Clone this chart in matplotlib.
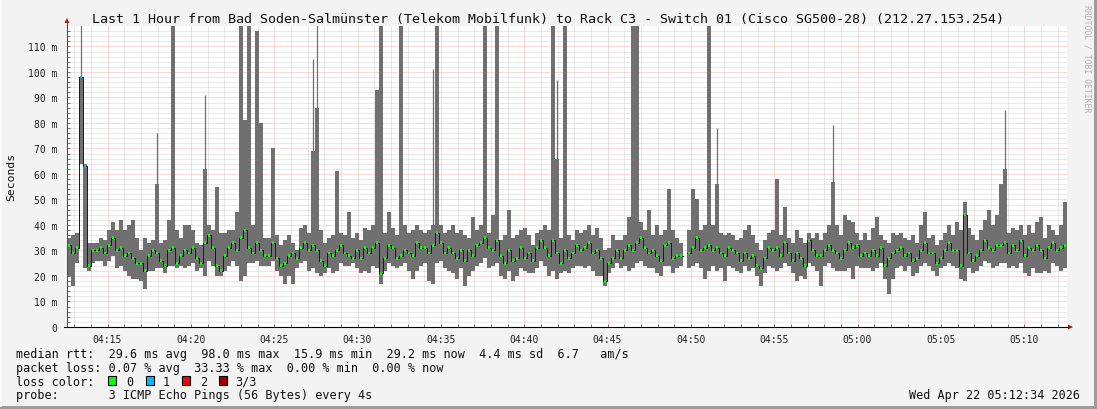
import matplotlib
matplotlib.use('Agg')
import matplotlib.pyplot as plt
import numpy as np
from matplotlib.patches import Rectangle, Polygon
from matplotlib.lines import Line2D

W, H = 1097, 410
START_MIN = 4 * 60 + 12 + 34 / 60      # 04:12:34
SPAN_MIN = 60.0
STEP_MIN = 0.24                        # one column = 14.4 s

title = "Last 1 Hour from Bad Soden-Salmünster (Telekom Mobilfunk) to Rack C3 - Switch 01 (Cisco SG500-28) (212.27.153.254)"

nan = float('nan')
median_ms = [
    32, 29, 31, 98, 63, 24, 30, 30, 31, 29,
    32, 35, 30, 31, 28, 29, 27, 25, 25, 22,
    28, 30, 29, 26, 24, 30, 31, 25, 28, 30,
    29, 31, 27, 25, 33, 36, 31, 24, 22, 28,
    31, 33, 30, 35, 38, 31, 29, 33, 30, 28,
    28, 33, 27, 24, 25, 28, 29, 27, 31, 33,
    30, 32, 30, 26, 24, 29, 28, 30, 32, 29,
    28, 27, 30, 27, 31, 29, 31, 33, 21, 27,
    32, 31, 27, 28, 30, 29, 28, 33, 31, 31,
    29, 32, 37, 33, 29, 31, 29, 27, 30, 26,
    30, 28, 32, 33, 35, 31, 30, 34, 28, 25,
    30, 26, 27, 31, 27, 29, 26, 31, 34, 31,
    28, 34, 29, 25, 30, 27, 29, 32, 30, 31,
    33, 29, 30, 27, 18, 25, 27, 30, 27, 30,
    32, 30, 33, 35, 31, 29, 30, 28, 26, 32,
    33, 27, 28, 28, nan, 29, 31, 35, 30, 31,
    32, 30, 31, 29, 28, 31, 30, 29, 26, 29,
    27, 28, 24, 23, 27, 31, 30, 31, 28, 33,
    29, 26, 29, 27, 24, 34, 30, 28, 28, 30,
    32, 30, 29, 27, 30, 33, 31, 32, 28, 29,
    28, 30, 28, 31, 24, 27, 29, 30, 31, 28,
    29, 26, 27, 30, 33, 29, 29, 25, 27, 30,
    33, 30, 30, 24, 44, 29, 26, 28, 30, 34,
    31, 30, 32, 32, 33, 29, 32, 30, 34, 28,
    31, 30, 32, 30, 27, 31, 33, 30, 31, 32,
]
low_ms = [
    20, 16, 25, 64, 23, 22, 25, 26, 26, 24,
    26, 28, 23, 24, 22, 20, 19, 19, 18, 15,
    22, 22, 23, 23, 21, 24, 24, 23, 24, 23,
    24, 25, 22, 23, 20, 26, 24, 20, 20, 22,
    24, 26, 24, 18, 20, 25, 25, 26, 24, 24,
    24, 26, 22, 20, 17, 20, 17, 23, 25, 26,
    22, 23, 21, 20, 21, 23, 21, 22, 25, 24,
    24, 25, 23, 21, 22, 21, 24, 23, 17, 22,
    25, 24, 23, 24, 25, 22, 19, 22, 24, 25,
    18, 17, 25, 26, 23, 22, 21, 19, 23, 16,
    20, 22, 24, 25, 27, 23, 24, 25, 20, 19,
    22, 18, 20, 23, 22, 21, 21, 23, 26, 24,
    20, 22, 19, 21, 22, 21, 23, 24, 24, 23,
    24, 22, 20, 20, 16, 21, 23, 25, 23, 24,
    22, 23, 25, 26, 24, 23, 23, 21, 20, 24,
    24, 21, 23, 24, nan, 23, 24, 25, 23, 19,
    22, 24, 22, 23, 18, 24, 23, 22, 21, 24,
    22, 23, 20, 16, 21, 24, 23, 22, 23, 25,
    24, 21, 18, 20, 19, 25, 24, 22, 16, 24,
    25, 23, 22, 22, 22, 23, 19, 24, 23, 23,
    23, 22, 23, 25, 19, 13, 19, 23, 24, 22,
    24, 20, 21, 24, 25, 24, 22, 20, 23, 24,
    25, 24, 23, 19, 18, 23, 21, 22, 24, 26,
    25, 23, 24, 25, 25, 23, 24, 23, 25, 21,
    20, 23, 21, 21, 22, 21, 25, 24, 22, 23,
]
high_ms = [
    35, 36, 37, 98, 64, 33, 33, 33, 35, 34,
    38, 41, 38, 42, 38, 40, 42, 35, 30, 35,
    33, 34, 56, 33, 34, 42, 150, 38, 35, 40,
    40, 38, 33, 32, 62, 40, 38, 55, 37, 37,
    38, 38, 45, 150, 81, 150, 40, 116, 80, 35,
    35, 70, 36, 32, 34, 36, 33, 30, 39, 40,
    37, 69, 86, 38, 33, 35, 36, 61, 37, 36,
    45, 35, 37, 34, 39, 38, 40, 93, 150, 37,
    45, 39, 36, 150, 40, 37, 38, 40, 38, 37,
    38, 40, 150, 40, 37, 38, 40, 37, 38, 36,
    35, 43, 38, 40, 150, 37, 44, 150, 34, 36,
    46, 35, 36, 38, 39, 36, 32, 37, 38, 40,
    38, 150, 66, 35, 150, 36, 34, 38, 37, 38,
    40, 36, 39, 35, 30, 31, 36, 34, 34, 36,
    43, 150, 150, 41, 38, 46, 36, 40, 36, 38,
    54, 38, 35, 33, nan, 38, 54, 50, 38, 40,
    150, 40, 56, 37, 36, 37, 36, 34, 35, 38,
    40, 36, 33, 30, 34, 37, 38, 58, 36, 47,
    35, 33, 38, 35, 33, 37, 35, 37, 34, 37,
    40, 57, 40, 36, 44, 42, 41, 37, 34, 37,
    34, 39, 43, 36, 34, 33, 37, 36, 37, 35,
    34, 36, 33, 40, 45, 35, 36, 32, 34, 37,
    40, 36, 41, 38, 49, 39, 36, 34, 38, 42,
    46, 40, 44, 56, 62, 37, 39, 38, 40, 36,
    40, 37, 41, 43, 35, 40, 38, 36, 40, 49,
]
loss = [0] * 250
loss[3] = 1
loss[4] = 1
# single slow pings drawn as hairlines
peak_col = [3, 22, 34, 61, 62, 91, 122, 162, 191, 234]
peak_ms = [150, 76, 91, 105, 150, 101, 97, 78, 79, 85]

loss_labels = ["0", "1", "2", "3/3"]
loss_colors = ["#00ff00", "#00b8ff", "#ff0000", "#a00000"]

legend_rtt = "median rtt:  29.6 ms avg  98.0 ms max  15.9 ms min  29.2 ms now  4.4 ms sd  6.7   am/s"
legend_loss = "packet loss: 0.07 % avg  33.33 % max  0.00 % min  0.00 % now"
legend_probe = "probe:       3 ICMP Echo Pings (56 Bytes) every 4s"
stamp = "Wed Apr 22 05:12:34 2026"

MONO = 'DejaVu Sans Mono'
plt.rcParams['font.family'] = MONO
LEG_FS = 8.5

fig = plt.figure(figsize=(W / 100, H / 100), dpi=100, facecolor='#f3f3f3')


def fx(px):
    return px / W


def fy(py):
    return 1 - py / H


ax = fig.add_axes([fx(67), fy(328), (1067 - 67) / W, (328 - 27) / H])
ax.set_facecolor('white')

med = np.array(median_ms, float)
lo = np.array(low_ms, float)
hi = np.array(high_ms, float)
n = len(med)
xc = START_MIN + STEP_MIN * (np.arange(n) + 0.5)

# smoke
ax.bar(xc, hi - lo, bottom=lo, width=STEP_MIN, color='#707070', linewidth=0, zorder=2)
for c, v in zip(peak_col, peak_ms):
    ax.vlines(xc[c], hi[c], v, color='#707070', lw=0.9, zorder=2)

# median
ax.step(xc, med, where='mid', color='#1a1a1a', lw=0.7, zorder=3)
lc = np.array([loss_colors[l] for l in loss])
ok = ~np.isnan(med)
ax.scatter(xc[ok], med[ok], s=4.5, marker='s', c=lc[ok], linewidths=0, zorder=4)

ax.set_xlim(START_MIN, START_MIN + SPAN_MIN)
ax.set_ylim(0, 118)

xmaj = np.arange(255, 313, 5)
ax.set_xticks(xmaj)
ax.set_xticklabels([f"{int(m // 60):02d}:{int(m % 60):02d}" for m in xmaj])
ax.set_xticks(np.arange(253, 313, 1), minor=True)
ymaj = np.arange(0, 111, 10)
ax.set_yticks(ymaj)
ax.set_yticklabels(['0'] + [f"{v} m" for v in ymaj[1:]])
ax.set_yticks(np.arange(0, 118, 2), minor=True)

ax.grid(which='minor', color='#d2d2d2', lw=0.72, linestyle=(0, (1, 1)), zorder=0)
ax.grid(which='major', color='#f4b4b4', lw=0.72, linestyle=(0, (1, 1)), zorder=1)
ax.set_axisbelow(True)
ax.tick_params(which='both', direction='in', length=2, width=0.6, color='#606060',
               labelsize=7, labelcolor='#202020')
ax.tick_params(axis='x', pad=5)
ax.tick_params(axis='y', pad=7)
for s in ax.spines.values():
    s.set_visible(False)

# axes lines and arrows
fig.add_artist(Line2D([fx(67), fx(67)], [fy(328), fy(22)], color='#505050', lw=0.8))
fig.add_artist(Line2D([fx(64), fx(1068)], [fy(328), fy(328)], color='#000000', lw=0.8))
fig.add_artist(Polygon([[fx(64.5), fy(24)], [fx(69.5), fy(24)], [fx(67), fy(19)]],
                       closed=True, color='#9a1a1a', lw=0))
fig.add_artist(Polygon([[fx(1068), fy(325.5)], [fx(1068), fy(330.5)], [fx(1073), fy(328)]],
                       closed=True, color='#9a1a1a', lw=0))

# frame
fig.add_artist(Rectangle((0, 0), 1, fy(407), transform=fig.transFigure, color='#9c9c9c', lw=0))
fig.add_artist(Rectangle((fx(1094), 0), fx(3), 1, transform=fig.transFigure, color='#9c9c9c', lw=0))
fig.add_artist(Line2D([0, 0.997], [0.999, 0.999], color='#ffffff', lw=1.2))
fig.add_artist(Line2D([0.0005, 0.0005], [0.007, 1], color='#ffffff', lw=1.2))

# texts
fig.text(fx(548), fy(19), title, ha='center', va='center', fontsize=9.6, color='#101010')
fig.text(fx(11), fy(177), 'Seconds', rotation=90, ha='center', va='center',
         fontsize=8.2, color='#101010')
fig.text(fx(1087), fy(59), 'RRDTOOL / TOBI OETIKER', rotation=270, ha='center', va='center',
         fontsize=5.9, color='#b0b0b0')

fig.text(fx(16), fy(358), legend_rtt, ha='left', va='baseline', fontsize=LEG_FS, color='#101010')
fig.text(fx(16), fy(371.7), legend_loss, ha='left', va='baseline', fontsize=LEG_FS, color='#101010')
fig.text(fx(16), fy(385.7), "loss color:", ha='left', va='baseline', fontsize=LEG_FS, color='#101010')
box_x = [108, 146, 182, 219]
lab_x = [126, 163, 200, 235]
for bx, lx, lab, col in zip(box_x, lab_x, loss_labels, loss_colors):
    fig.add_artist(Rectangle((fx(bx), fy(386)), 8 / W, 9 / H, transform=fig.transFigure,
                             facecolor=col, edgecolor='#000000', lw=0.8))
    fig.text(fx(lx), fy(385.7), lab, ha='left', va='baseline', fontsize=LEG_FS, color='#101010')
fig.text(fx(16), fy(399.3), legend_probe, ha='left', va='baseline', fontsize=LEG_FS, color='#101010')
fig.text(fx(1080), fy(399.3), stamp, ha='right', va='baseline', fontsize=LEG_FS, color='#101010')

fig.savefig('out.png', dpi=100, facecolor=fig.get_facecolor())
